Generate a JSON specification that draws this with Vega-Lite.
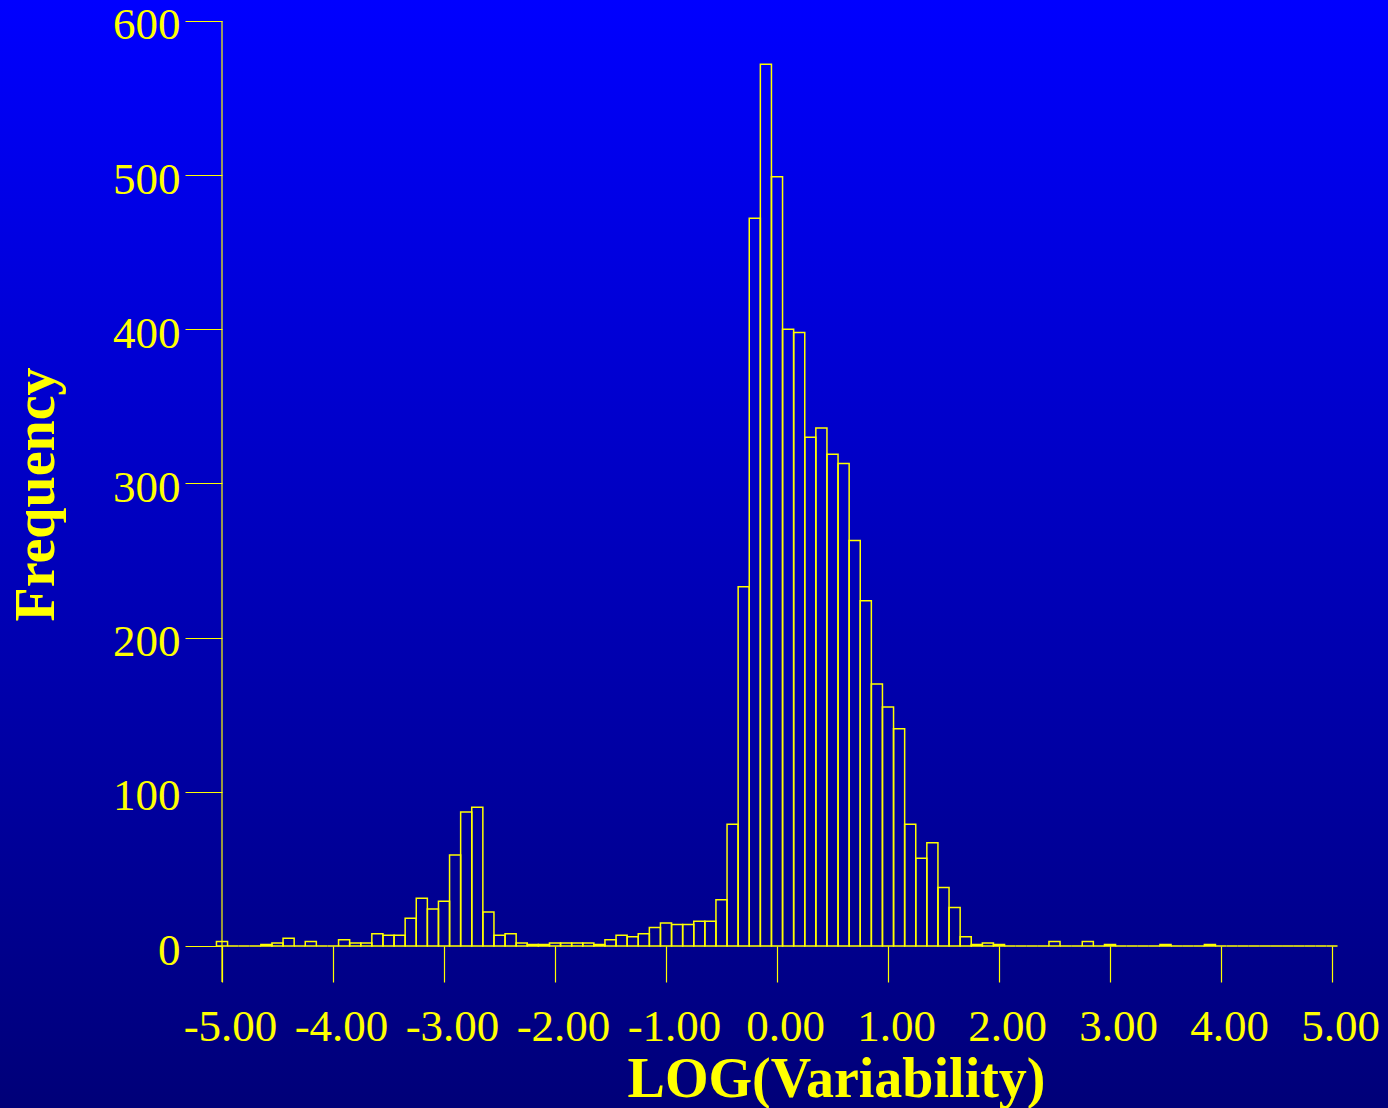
{
  "$schema": "https://vega.github.io/schema/vega-lite/v6.json",
  "width": 1388,
  "height": 1108,
  "autosize": {"type": "none"},
  "padding": 0,
  "background": "#000080",
  "config": {
    "view": {
      "stroke": null,
      "fill": {"gradient": "linear", "x1": 0, "y1": 0, "x2": 0, "y2": 1,
        "stops": [{"offset": 0, "color": "#0000ff"}, {"offset": 1, "color": "#000078"}]}
    },
    "font": "Liberation Serif"
  },
  "layer": [
    {
      "data": {"values": [
        {"lo": -5.05, "hi": -4.95, "n": 3},
        {"lo": -4.95, "hi": -4.85, "n": 0},
        {"lo": -4.85, "hi": -4.75, "n": 0},
        {"lo": -4.75, "hi": -4.65, "n": 0},
        {"lo": -4.65, "hi": -4.55, "n": 1},
        {"lo": -4.55, "hi": -4.45, "n": 2},
        {"lo": -4.45, "hi": -4.35, "n": 5},
        {"lo": -4.35, "hi": -4.25, "n": 0},
        {"lo": -4.25, "hi": -4.15, "n": 3},
        {"lo": -4.15, "hi": -4.05, "n": 0},
        {"lo": -4.05, "hi": -3.95, "n": 0},
        {"lo": -3.95, "hi": -3.85, "n": 4},
        {"lo": -3.85, "hi": -3.75, "n": 2},
        {"lo": -3.75, "hi": -3.65, "n": 2},
        {"lo": -3.65, "hi": -3.55, "n": 8},
        {"lo": -3.55, "hi": -3.45, "n": 7},
        {"lo": -3.45, "hi": -3.35, "n": 7},
        {"lo": -3.35, "hi": -3.25, "n": 18},
        {"lo": -3.25, "hi": -3.15, "n": 31},
        {"lo": -3.15, "hi": -3.05, "n": 24},
        {"lo": -3.05, "hi": -2.95, "n": 29},
        {"lo": -2.95, "hi": -2.85, "n": 59},
        {"lo": -2.85, "hi": -2.75, "n": 87},
        {"lo": -2.75, "hi": -2.65, "n": 90},
        {"lo": -2.65, "hi": -2.55, "n": 22},
        {"lo": -2.55, "hi": -2.45, "n": 7},
        {"lo": -2.45, "hi": -2.35, "n": 8},
        {"lo": -2.35, "hi": -2.25, "n": 2},
        {"lo": -2.25, "hi": -2.15, "n": 1},
        {"lo": -2.15, "hi": -2.05, "n": 1},
        {"lo": -2.05, "hi": -1.95, "n": 2},
        {"lo": -1.95, "hi": -1.85, "n": 2},
        {"lo": -1.85, "hi": -1.75, "n": 2},
        {"lo": -1.75, "hi": -1.65, "n": 2},
        {"lo": -1.65, "hi": -1.55, "n": 1},
        {"lo": -1.55, "hi": -1.45, "n": 4},
        {"lo": -1.45, "hi": -1.35, "n": 7},
        {"lo": -1.35, "hi": -1.25, "n": 6},
        {"lo": -1.25, "hi": -1.15, "n": 8},
        {"lo": -1.15, "hi": -1.05, "n": 12},
        {"lo": -1.05, "hi": -0.95, "n": 15},
        {"lo": -0.95, "hi": -0.85, "n": 14},
        {"lo": -0.85, "hi": -0.75, "n": 14},
        {"lo": -0.75, "hi": -0.65, "n": 16},
        {"lo": -0.65, "hi": -0.55, "n": 16},
        {"lo": -0.55, "hi": -0.45, "n": 30},
        {"lo": -0.45, "hi": -0.35, "n": 79},
        {"lo": -0.35, "hi": -0.25, "n": 233},
        {"lo": -0.25, "hi": -0.15, "n": 472},
        {"lo": -0.15, "hi": -0.05, "n": 572},
        {"lo": -0.05, "hi": 0.05, "n": 499},
        {"lo": 0.05, "hi": 0.15, "n": 400},
        {"lo": 0.15, "hi": 0.25, "n": 398},
        {"lo": 0.25, "hi": 0.35, "n": 330},
        {"lo": 0.35, "hi": 0.45, "n": 336},
        {"lo": 0.45, "hi": 0.55, "n": 319},
        {"lo": 0.55, "hi": 0.65, "n": 313},
        {"lo": 0.65, "hi": 0.75, "n": 263},
        {"lo": 0.75, "hi": 0.85, "n": 224},
        {"lo": 0.85, "hi": 0.95, "n": 170},
        {"lo": 0.95, "hi": 1.05, "n": 155},
        {"lo": 1.05, "hi": 1.15, "n": 141},
        {"lo": 1.15, "hi": 1.25, "n": 79},
        {"lo": 1.25, "hi": 1.35, "n": 57},
        {"lo": 1.35, "hi": 1.45, "n": 67},
        {"lo": 1.45, "hi": 1.55, "n": 38},
        {"lo": 1.55, "hi": 1.65, "n": 25},
        {"lo": 1.65, "hi": 1.75, "n": 6},
        {"lo": 1.75, "hi": 1.85, "n": 1},
        {"lo": 1.85, "hi": 1.95, "n": 2},
        {"lo": 1.95, "hi": 2.05, "n": 1},
        {"lo": 2.05, "hi": 2.15, "n": 0},
        {"lo": 2.15, "hi": 2.25, "n": 0},
        {"lo": 2.25, "hi": 2.35, "n": 0},
        {"lo": 2.35, "hi": 2.45, "n": 0},
        {"lo": 2.45, "hi": 2.55, "n": 3},
        {"lo": 2.55, "hi": 2.65, "n": 0},
        {"lo": 2.65, "hi": 2.75, "n": 0},
        {"lo": 2.75, "hi": 2.85, "n": 3},
        {"lo": 2.85, "hi": 2.95, "n": 0},
        {"lo": 2.95, "hi": 3.05, "n": 1},
        {"lo": 3.05, "hi": 3.15, "n": 0},
        {"lo": 3.15, "hi": 3.25, "n": 0},
        {"lo": 3.25, "hi": 3.35, "n": 0},
        {"lo": 3.35, "hi": 3.45, "n": 0},
        {"lo": 3.45, "hi": 3.55, "n": 1},
        {"lo": 3.55, "hi": 3.65, "n": 0},
        {"lo": 3.65, "hi": 3.75, "n": 0},
        {"lo": 3.75, "hi": 3.85, "n": 0},
        {"lo": 3.85, "hi": 3.95, "n": 1},
        {"lo": 3.95, "hi": 4.05, "n": 0},
        {"lo": 4.05, "hi": 4.15, "n": 0},
        {"lo": 4.15, "hi": 4.25, "n": 0},
        {"lo": 4.25, "hi": 4.35, "n": 0},
        {"lo": 4.35, "hi": 4.45, "n": 0},
        {"lo": 4.45, "hi": 4.55, "n": 0},
        {"lo": 4.55, "hi": 4.65, "n": 0},
        {"lo": 4.65, "hi": 4.75, "n": 0},
        {"lo": 4.75, "hi": 4.85, "n": 0},
        {"lo": 4.85, "hi": 4.95, "n": 0},
        {"lo": 4.95, "hi": 5.05, "n": 0}
      ]},
      "mark": {"type": "bar", "filled": false, "stroke": "#ffff00", "strokeWidth": 1.5},
      "encoding": {
        "x": {
          "field": "lo", "type": "quantitative",
          "scale": {"domain": [-7, 5.5045], "nice": false, "zero": false},
          "axis": {
            "orient": "bottom", "offset": -162,
            "values": [-5, -4, -3, -2, -1, 0, 1, 2, 3, 4, 5],
            "format": ".2f",
            "labelExpr": "replace(datum.label, '\u2212', '-')",
            "domain": false, "grid": false,
            "tickSize": 36, "tickColor": "#ffff00", "tickWidth": 1.2,
            "labelColor": "#ffff00", "labelFont": "Liberation Serif", "labelFontSize": 45,
            "labelBaseline": "alphabetic", "labelPadding": 58, "labelOffset": 8,
            "labelFlush": false, "labelOverlap": false,
            "title": "LOG(Variability)", "titleFont": "Liberation Serif", "titleFontSize": 56,
            "titleFontWeight": "bold", "titleColor": "#ffff00",
            "titleX": 836, "titleY": 150, "titleBaseline": "alphabetic", "titleAlign": "center"
          }
        },
        "x2": {"field": "hi"},
        "y": {
          "field": "n", "type": "quantitative",
          "scale": {"domain": [-105.08, 613.62], "nice": false, "zero": false},
          "axis": {
            "orient": "left", "offset": -222,
            "values": [0, 100, 200, 300, 400, 500, 600],
            "domain": false, "grid": false,
            "tickSize": 37, "tickColor": "#ffff00", "tickWidth": 1.2,
            "labelColor": "#ffff00", "labelFont": "Liberation Serif", "labelFontSize": 45,
            "labelPadding": 5, "labelBaseline": "middle", "labelOffset": 4,
            "labelFlush": false, "labelOverlap": false,
            "title": "Frequency", "titleFont": "Liberation Serif", "titleFontSize": 56,
            "titleFontWeight": "bold", "titleColor": "#ffff00", "titleAngle": -90,
            "titleX": -169, "titleY": 494, "titleBaseline": "alphabetic", "titleAlign": "center"
          }
        },
        "y2": {"datum": 0}
      }
    },
    {
      "data": {"values": [{}]},
      "mark": {"type": "rule", "stroke": "#ffff00", "strokeWidth": 1.2},
      "encoding": {
        "x": {"datum": -5, "type": "quantitative"},
        "y": {"datum": -23.4, "type": "quantitative"},
        "y2": {"datum": 600}
      }
    }
  ]
}
